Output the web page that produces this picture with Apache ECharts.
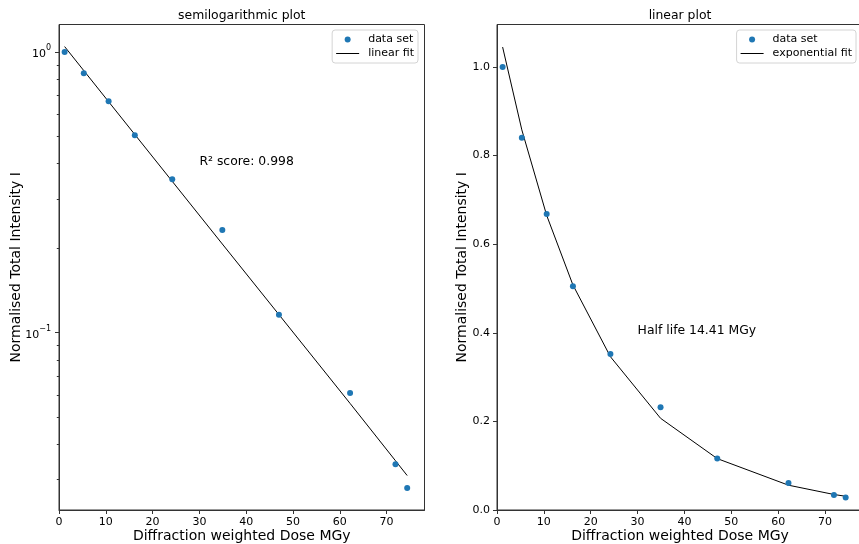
<!DOCTYPE html>
<html>
<head>
<meta charset="utf-8">
<script src="https://cdn.jsdelivr.net/npm/echarts@6/dist/echarts.min.js"></script>
<style>
  html, body { margin: 0; padding: 0; background: #fff; }
  #chart { width: 859px; height: 544px; }
</style>
</head>
<body>
<div id="chart"></div>
<script>
// Measurements: absorbed dose and normalised intensity
const dose = [1.2, 5.3, 10.6, 16.2, 24.2, 34.9, 47.0, 62.2, 71.9, 74.4];
const intensity = [1.0, 0.84, 0.668, 0.505, 0.352, 0.232, 0.116, 0.061, 0.034, 0.028];
// Fitted decay evaluated at each dose
const fitIntensity = [1.045, 0.858, 0.665, 0.508, 0.346, 0.207, 0.116, 0.056, 0.035, 0.031];

// Tick positions and labels (log labels as base and exponent)
const doseTicks = [0, 10, 20, 30, 40, 50, 60, 70];
const logMajorTicks = [0.1, 1];
const logMajorExponents = ['\u22121', '0'];
const logMinorTicks = [0.03, 0.04, 0.05, 0.06, 0.07, 0.08, 0.09, 0.2, 0.3, 0.4, 0.5, 0.6, 0.7, 0.8, 0.9];
const linearTicks = [0, 0.2, 0.4, 0.6, 0.8, 1.0];

// Texts
const panelTitles = ['semilogarithmic plot', 'linear plot'];
const pointsName = 'data set';
const fitNames = ['linear fit', 'exponential fit'];
const annotations = ['R\u00B2 score: 0.998', 'Half life 14.41 MGy'];
const annotationAt = [30, 0.4];
const xName = 'Diffraction weighted Dose MGy';
const yName = 'Normalised Total Intensity I';

const FONT = 'DejaVu Sans';
const SPINE = '#333';
const BLUE = '#1f77b4';

const W = 859, H = 544;
const grids = [
  { left: 59, top: 24.5, right: W - 424.5, bottom: H - 510 },
  { left: 497, top: 24.5, right: -4, bottom: H - 510 }
];
const doseRange = [0, 78.1];
const logRange = [0.02337, 1.2523];
const linRange = [0, 1.0959];

const points = dose.map((x, i) => [x, intensity[i]]);
const fitPoints = dose.map((x, i) => [x, fitIntensity[i]]);

function fmtLinear(v) { return v.toFixed(1); }
function fmtLog(v) {
  const k = logMajorTicks.findIndex(t => Math.abs(t - v) < 1e-9);
  return k < 0 ? '' : '{b|10}{e|' + logMajorExponents[k] + '}';
}

function xAxisFor(gi) {
  return {
    type: 'value', gridIndex: gi, min: doseRange[0], max: doseRange[1],
    name: xName, nameLocation: 'middle', nameGap: 19, nameMoveOverlap: false,
    nameTextStyle: { fontFamily: FONT, fontSize: 14, color: '#000', verticalAlign: 'top' },
    axisLine: { show: true, onZero: false, lineStyle: { color: SPINE, width: 1 } },
    axisTick: { show: true, inside: false, length: 4, customValues: doseTicks, lineStyle: { color: SPINE, width: 1 } },
    axisLabel: { customValues: doseTicks, margin: 7, fontFamily: FONT, fontSize: 11, color: '#000' },
    splitLine: { show: false }
  };
}

const legendBase = {
  orient: 'vertical', top: 30,
  itemWidth: 23, itemHeight: 6, itemGap: 3,
  padding: [4, 4, 4, 4],
  symbolKeepAspect: true,
  backgroundColor: '#fff', borderColor: '#d4d4d4', borderWidth: 1, borderRadius: 3,
  textStyle: { fontFamily: FONT, fontSize: 11, color: '#000', padding: [0, 0, 0, 4] },
  selectedMode: false
};
const lineIcon = 'path://M0,0L23,0L23,1L0,1Z';

const option = {
  animation: false,
  backgroundColor: '#fff',
  grid: grids.map(g => Object.assign({
    show: true, borderColor: SPINE, borderWidth: 1, backgroundColor: 'transparent',
    containLabel: false, outerBoundsMode: 'none'
  }, g)),
  xAxis: [xAxisFor(0), xAxisFor(1)],
  yAxis: [
    {
      type: 'log', logBase: 10, gridIndex: 0, min: logRange[0], max: logRange[1],
      name: yName, nameLocation: 'middle', nameGap: 35.5, nameMoveOverlap: false,
      nameTextStyle: { fontFamily: FONT, fontSize: 14, color: '#000' },
      axisLine: { show: true, onZero: false, lineStyle: { color: SPINE, width: 1 } },
      axisTick: { show: true, inside: false, length: 4, customValues: logMajorTicks, lineStyle: { color: SPINE, width: 1 } },
      axisLabel: {
        customValues: logMajorTicks, margin: 8, color: '#000',
        formatter: fmtLog,
        rich: {
          b: { fontFamily: FONT, fontSize: 11, color: '#000', verticalAlign: 'bottom', lineHeight: 16 },
          e: { fontFamily: FONT, fontSize: 8, color: '#000', verticalAlign: 'top', lineHeight: 16 }
        }
      },
      splitLine: { show: false }
    },
    {
      type: 'value', gridIndex: 1, min: linRange[0], max: linRange[1],
      name: yName, nameLocation: 'middle', nameGap: 27.5, nameMoveOverlap: false,
      nameTextStyle: { fontFamily: FONT, fontSize: 14, color: '#000' },
      axisLine: { show: true, onZero: false, lineStyle: { color: SPINE, width: 1 } },
      axisTick: { show: true, inside: false, length: 4, customValues: linearTicks, lineStyle: { color: SPINE, width: 1 } },
      axisLabel: { customValues: linearTicks, margin: 7, fontFamily: FONT, fontSize: 11, color: '#000', formatter: fmtLinear },
      splitLine: { show: false }
    },
    {
      // minor ticks of the log axis
      type: 'log', logBase: 10, gridIndex: 0, min: logRange[0], max: logRange[1], position: 'left',
      axisLine: { show: false },
      axisTick: { show: true, inside: false, length: 2.2, customValues: logMinorTicks, lineStyle: { color: SPINE, width: 1 } },
      axisLabel: { show: false },
      splitLine: { show: false }
    }
  ],
  legend: [
    Object.assign({}, legendBase, {
      right: W - 418,
      data: [{ name: pointsName, icon: 'circle' }, { name: fitNames[0], icon: lineIcon }]
    }),
    Object.assign({}, legendBase, {
      right: 3,
      data: [{ name: pointsName, icon: 'circle' }, { name: fitNames[1], icon: lineIcon }]
    })
  ],
  graphic: panelTitles.map((t, i) => {
    const g = grids[i];
    const x0 = g.left, x1 = W - g.right;
    return {
      type: 'text', x: (x0 + x1) / 2, y: 15.5,
      style: { text: t, font: '12.4px "DejaVu Sans"', fill: '#000', align: 'center', verticalAlign: 'middle' }
    };
  }),
  series: [
    {
      name: pointsName, type: 'scatter', xAxisIndex: 0, yAxisIndex: 0, data: points,
      symbol: 'circle', symbolSize: 6, itemStyle: { color: BLUE, opacity: 1 }, z: 3
    },
    {
      name: fitNames[0], type: 'line', xAxisIndex: 0, yAxisIndex: 0, data: fitPoints,
      symbol: 'none', lineStyle: { color: '#000', width: 1 }, itemStyle: { color: '#000' }, z: 2
    },
    {
      name: pointsName, type: 'scatter', xAxisIndex: 1, yAxisIndex: 1, data: points,
      symbol: 'circle', symbolSize: 6, itemStyle: { color: BLUE, opacity: 1 }, z: 3
    },
    {
      name: fitNames[1], type: 'line', xAxisIndex: 1, yAxisIndex: 1, data: fitPoints,
      symbol: 'none', lineStyle: { color: '#000', width: 1 }, itemStyle: { color: '#000' }, z: 2
    },
    // text annotations placed in data coordinates
    ...annotations.map((t, i) => ({
      name: 'note' + i, type: 'scatter', xAxisIndex: i, yAxisIndex: i,
      data: [annotationAt], symbolSize: 0, silent: true, itemStyle: { opacity: 1 },
      label: {
        show: true, position: [0, 0], align: 'left', verticalAlign: 'middle', offset: [0, -2],
        formatter: t, fontFamily: FONT, fontSize: 12.4, color: '#000', opacity: 1, textBorderWidth: 0
      }
    }))
  ]
};

const chart = echarts.init(document.getElementById('chart'), null, { renderer: 'canvas' });
chart.setOption(option);
</script>
</body>
</html>
